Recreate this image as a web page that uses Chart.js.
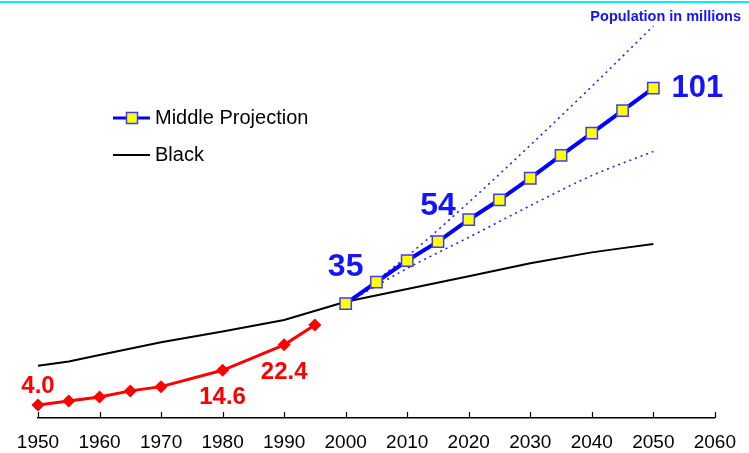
<!DOCTYPE html>
<html>
<head>
<meta charset="utf-8">
<script src="https://cdn.jsdelivr.net/npm/chart.js@4.4.1/dist/chart.umd.min.js"></script>
<style>
  html, body { margin: 0; padding: 0; background: #fff; }
  #wrap { width: 749px; height: 453px; position: relative; }
</style>
</head>
<body>
<div id="wrap"><canvas id="popChart"></canvas></div>
<script>
// Historical counts, 1950-1995
const histYears = [1950, 1955, 1960, 1965, 1970, 1980, 1990, 1995];
const histValues = [4.0, 5.2, 6.4, 8.3, 9.6, 14.6, 22.4, 28.5];

// Middle projection, 2000-2050
const projYears = [2000, 2005, 2010, 2015, 2020, 2025, 2030, 2035, 2040, 2045, 2050];
const projValues = [35, 41.6, 48.2, 54, 60.7, 66.8, 73.4, 80.4, 87.2, 94.1, 101];

// High / low projection bounds
const boundYears = [2000, 2010, 2020, 2030, 2040, 2050];
const highValues = [35, 49.5, 66, 83.5, 101.5, 120];
const lowValues = [35, 45.8, 55.3, 65, 74.2, 81.6];

// Black population, for comparison
const blackYears = [1950, 1955, 1960, 1970, 1980, 1990, 2000, 2010, 2020, 2030, 2040, 2045, 2050];
const blackValues = [16.0, 17.3, 19.3, 23.2, 26.5, 30.0, 35.6, 39.5, 43.4, 47.4, 50.7, 52.0, 53.3];

const tickYears = [1950, 1960, 1970, 1980, 1990, 2000, 2010, 2020, 2030, 2040, 2050, 2060];

const FONT = '"Liberation Sans", Arial, sans-serif';
const RED = '#ff0000';
const BLUE = '#0000ff';
const LABEL_BLUE = '#1414ff';

const toPoints = (xs, ys) => xs.map((x, i) => ({ x, y: ys[i] }));

// value labels: dataset index, point index, offset, colour, size
const valueLabels = [
    { ds: 0, idx: 0, dx: 0, dy: -19, color: RED, size: 24, digits: 1 },
    { ds: 0, idx: 5, dx: 0, dy: 27, color: RED, size: 24, digits: 1 },
    { ds: 0, idx: 6, dx: 0, dy: 28, color: RED, size: 24, digits: 1 },
    { ds: 1, idx: 0, dx: 0, dy: -36, color: LABEL_BLUE, size: 32, digits: 0 },
    { ds: 1, idx: 3, dx: 0, dy: -35, color: LABEL_BLUE, size: 32, digits: 0 },
    { ds: 1, idx: 10, dx: 44, dy: 0, color: LABEL_BLUE, size: 31, digits: 0 }
];

const decorPlugin = {
    id: 'decor',
    beforeDraw(chart) {
        const ctx = chart.ctx;
        ctx.save();
        // cyan rule along the top
        ctx.strokeStyle = '#00eeff';
        ctx.lineWidth = 2;
        ctx.beginPath();
        ctx.moveTo(0, 2);
        ctx.lineTo(chart.width, 2);
        ctx.stroke();
        ctx.restore();
    },
    afterDatasetsDraw(chart) {
        const ctx = chart.ctx;
        const xs = chart.scales.x;
        const ys = chart.scales.y;
        const base = chart.chartArea.bottom;
        ctx.save();

        // tick marks point up into the plot
        ctx.strokeStyle = '#000';
        ctx.lineWidth = 1.2;
        xs.ticks.forEach(t => {
            const px = Math.round(xs.getPixelForValue(t.value)) + 0.5;
            ctx.beginPath();
            ctx.moveTo(px, base);
            ctx.lineTo(px, base - 6);
            ctx.stroke();
        });

        // value labels
        ctx.textAlign = 'center';
        ctx.textBaseline = 'middle';
        valueLabels.forEach(l => {
            const pt = chart.data.datasets[l.ds].data[l.idx];
            ctx.font = 'bold ' + l.size + 'px ' + FONT;
            ctx.fillStyle = l.color;
            ctx.fillText(pt.y.toFixed(l.digits),
                xs.getPixelForValue(pt.x) + l.dx,
                ys.getPixelForValue(pt.y) + l.dy);
        });

        // unit note, top right
        ctx.font = 'bold 14.5px ' + FONT;
        ctx.fillStyle = LABEL_BLUE;
        ctx.textAlign = 'right';
        ctx.fillText('Population in millions', 741, 17);

        // legend
        ctx.textAlign = 'left';
        ctx.font = '20px ' + FONT;
        ctx.strokeStyle = BLUE;
        ctx.lineWidth = 3;
        ctx.beginPath();
        ctx.moveTo(113, 118);
        ctx.lineTo(150, 118);
        ctx.stroke();
        ctx.fillStyle = '#ffff00';
        ctx.strokeStyle = '#3b3bff';
        ctx.lineWidth = 1.5;
        ctx.fillRect(126.5, 112.5, 11, 11);
        ctx.strokeRect(126.5, 112.5, 11, 11);
        ctx.fillStyle = '#000';
        ctx.fillText('Middle Projection', 155, 118);

        ctx.strokeStyle = '#000';
        ctx.lineWidth = 2;
        ctx.beginPath();
        ctx.moveTo(113, 155);
        ctx.lineTo(150, 155);
        ctx.stroke();
        ctx.fillText('Black', 155, 155);

        ctx.restore();
    }
};

new Chart(document.getElementById('popChart'), {
    type: 'line',
    data: {
        datasets: [
            {
                label: 'Historical',
                data: toPoints(histYears, histValues),
                borderColor: RED,
                backgroundColor: RED,
                borderWidth: 3,
                pointStyle: 'rectRot',
                pointRadius: 6.5,
                pointBorderWidth: 0,
                order: 1
            },
            {
                label: 'Middle Projection',
                data: toPoints(projYears, projValues),
                borderColor: BLUE,
                backgroundColor: '#ffff00',
                borderWidth: 4,
                pointStyle: 'rect',
                pointRadius: 8,
                pointBorderColor: '#3b3bff',
                pointBorderWidth: 1.5,
                order: 0
            },
            {
                label: 'High',
                data: toPoints(boundYears, highValues),
                borderColor: '#2222ff',
                borderWidth: 1.6,
                borderDash: [2, 4],
                cubicInterpolationMode: 'monotone',
                pointRadius: 0,
                order: 3
            },
            {
                label: 'Low',
                data: toPoints(boundYears, lowValues),
                borderColor: '#2222ff',
                borderWidth: 1.6,
                borderDash: [2, 4],
                cubicInterpolationMode: 'monotone',
                pointRadius: 0,
                order: 3
            },
            {
                label: 'Black',
                data: toPoints(blackYears, blackValues),
                borderColor: '#000',
                borderWidth: 2,
                pointRadius: 0,
                order: 2
            }
        ]
    },
    options: {
        responsive: true,
        maintainAspectRatio: false,
        animation: false,
        clip: false,
        layout: {
            padding: { top: 26, left: 38, right: 30, bottom: 0 }
        },
        plugins: {
            legend: { display: false },
            tooltip: { enabled: false }
        },
        scales: {
            x: {
                type: 'linear',
                min: 1950,
                max: 2060,
                afterBuildTicks: scale => {
                    scale.ticks = tickYears.map(v => ({ value: v }));
                },
                afterFit: scale => {
                    scale.height = 35;
                },
                grid: { display: false, drawTicks: false },
                border: { display: true, color: '#000', width: 1.5 },
                ticks: {
                    padding: 13,
                    color: '#000',
                    font: { family: FONT, size: 19 },
                    maxRotation: 0,
                    autoSkip: false,
                    callback: v => String(v)
                }
            },
            y: {
                display: false,
                min: 0,
                max: 120
            }
        }
    },
    plugins: [decorPlugin]
});
</script>
</body>
</html>
